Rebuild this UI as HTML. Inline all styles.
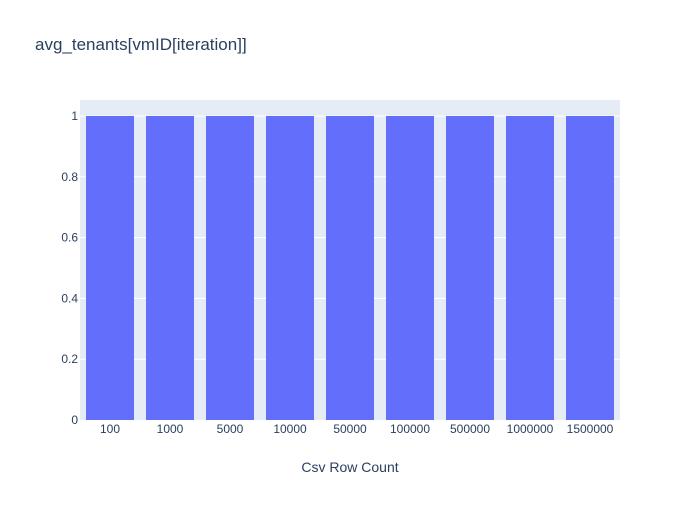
<!DOCTYPE html>
<html><head><meta charset="utf-8"><style>
body{margin:0;background:#fff;font-family:"Liberation Sans",Arial,sans-serif;}
svg text{font-family:"Liberation Sans",Arial,sans-serif;fill:#2a3f5f;}
</style></head><body>
<svg id="chart" width="700" height="500" xmlns="http://www.w3.org/2000/svg">
<rect width="700" height="500" fill="#fff"/>
<text x="35" y="50" font-size="17">avg_tenants[vmID[iteration]]</text>
<rect x="80" y="100" width="540" height="320" fill="#e5ecf6"/>
<g id="grid"></g><g id="bars"></g><g id="yticks"></g><g id="xticks"></g>
<text x="350" y="472" font-size="14" text-anchor="middle">Csv Row Count</text>
</svg>
<script>
const categories=["100","1000","5000","10000","50000","100000","500000","1000000","1500000"];
const values=[1,1,1,1,1,1,1,1,1];
const yTicks=[0,0.2,0.4,0.6,0.8,1];
const yTickLabels=["0","0.2","0.4","0.6","0.8","1"];
const L=80,R=620,T=100,B=420,yMax=1.0526;
const ns="http://www.w3.org/2000/svg";
const y=v=>B-(v/yMax)*(B-T);
const step=(R-L)/categories.length;
const x=i=>L+step*(i+0.5);
function mk(tag,attrs,parent){const e=document.createElementNS(ns,tag);for(const k in attrs)e.setAttribute(k,attrs[k]);document.getElementById(parent).appendChild(e);return e;}
yTicks.forEach((t,i)=>{
 if(t>0){const g=mk('line',{x1:L,x2:R,y1:y(t),y2:y(t),stroke:'#fff','stroke-width':1},'grid');
 
 }
 const tx=mk('text',{x:L-2,y:y(t)+4,'font-size':12,'text-anchor':'end'},'yticks');
 tx.textContent=yTickLabels[i];
 
 
});
categories.forEach((c,i)=>{
 const w=step*0.8;
 const r=mk('rect',{x:x(i)-w/2,y:y(values[i]),width:w,height:B-y(values[i]),fill:'#636efa'},'bars');
 
 
 const tx=mk('text',{x:x(i),y:B+13,'font-size':12,'text-anchor':'middle'},'xticks');
 tx.textContent=c;
 
 
});
</script>
</body></html>
